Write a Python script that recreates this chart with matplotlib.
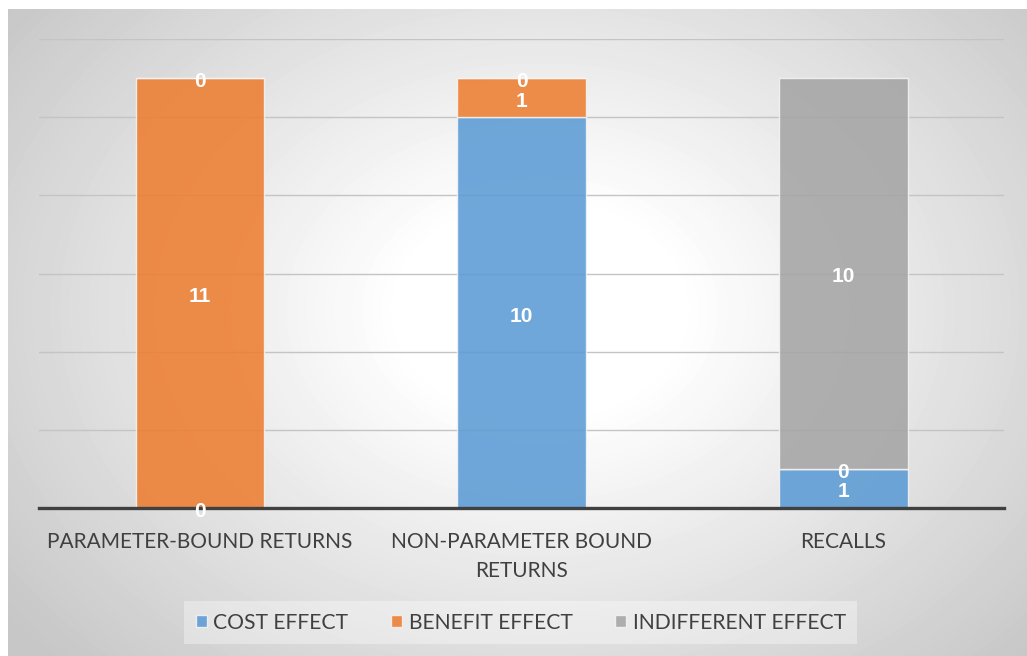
import numpy as np
import matplotlib.pyplot as plt

plt.rcParams['font.family'] = ['Lato', 'DejaVu Sans']

# data
categories = ['PARAMETER-BOUND RETURNS', 'NON-PARAMETER BOUND\nRETURNS', 'RECALLS']
cost_effect = [0, 10, 1]
benefit_effect = [11, 1, 0]
indifferent_effect = [0, 0, 10]
series_names = ['COST EFFECT', 'BENEFIT EFFECT', 'INDIFFERENT EFFECT']
colors = ['#5B9BD5', '#ED7D31', '#A5A5A5']

W, H = 1027, 656
fig = plt.figure(figsize=(W / 100, H / 100), dpi=100)
fig.patch.set_facecolor('white')

# radial grey-to-white background panel
x0, y0 = 8, 9
bg = fig.add_axes([x0 / W, 0, 1 - x0 / W, (H - y0) / H])
bg.set_axis_off()
gx, gy = np.meshgrid(np.arange(x0, W), np.arange(y0, H))
r = np.sqrt(((gx - 540) / 560) ** 2 + ((gy - 310) / 420) ** 2)
shade = 1.0 - 0.22 * np.clip((r - 0.25) / 0.95, 0, 1)
bg.imshow(shade, cmap='gray', vmin=0, vmax=1, aspect='auto',
          interpolation='bilinear', extent=[0, 1, 0, 1])

ax = fig.add_axes([39 / W, 148 / H, 965 / W, 469 / H])
ax.patch.set_alpha(0)

x = np.arange(len(categories))
width = 0.4
stacks = [cost_effect, benefit_effect, indifferent_effect]
bottom = np.zeros(len(categories))
for vals, name, c in zip(stacks, series_names, colors):
    vals = np.array(vals, dtype=float)
    ax.bar(x, vals, width, bottom=bottom, color=c, alpha=0.88,
           edgecolor='#f4f4f4', linewidth=1, label=name, zorder=3)
    for xi, b, v in zip(x, bottom, vals):
        ax.annotate(f'{int(v)}', (xi, b + v / 2), xytext=(0, -2.5),
                    textcoords='offset points', ha='center', va='center',
                    color='white', fontsize=15, fontweight='bold',
                    family=['Liberation Sans', 'DejaVu Sans'], zorder=5)
    bottom += vals

ax.set_xlim(-0.5, 2.5)
ax.set_ylim(0, 12)
ax.set_yticks(np.arange(0, 13, 2))
ax.yaxis.grid(True, color='#c4c4c4', linewidth=1, zorder=0)
ax.tick_params(axis='y', length=0, labelleft=False)
ax.tick_params(axis='x', length=0, pad=17, labelsize=15, labelcolor='#404040')
ax.set_xticks(x)
ax.set_xticklabels(categories, linespacing=1.6)
for s in ['top', 'right', 'left']:
    ax.spines[s].set_visible(False)
ax.spines['bottom'].set_color('#404040')
ax.spines['bottom'].set_linewidth(2.4)
ax.spines['bottom'].set_zorder(4)

leg = fig.legend(loc='center', bbox_to_anchor=(0.507, 0.051), ncol=3,
                 fontsize=15.2, frameon=True, handlelength=0.55, handleheight=0.55,
                 handletextpad=0.3, columnspacing=2.0, borderpad=0.55,
                 fancybox=False)
leg.get_frame().set_facecolor('white')
leg.get_frame().set_alpha(0.35)
leg.get_frame().set_linewidth(0)
for t in leg.get_texts():
    t.set_color('#404040')

fig.savefig('out.png', dpi=100)
